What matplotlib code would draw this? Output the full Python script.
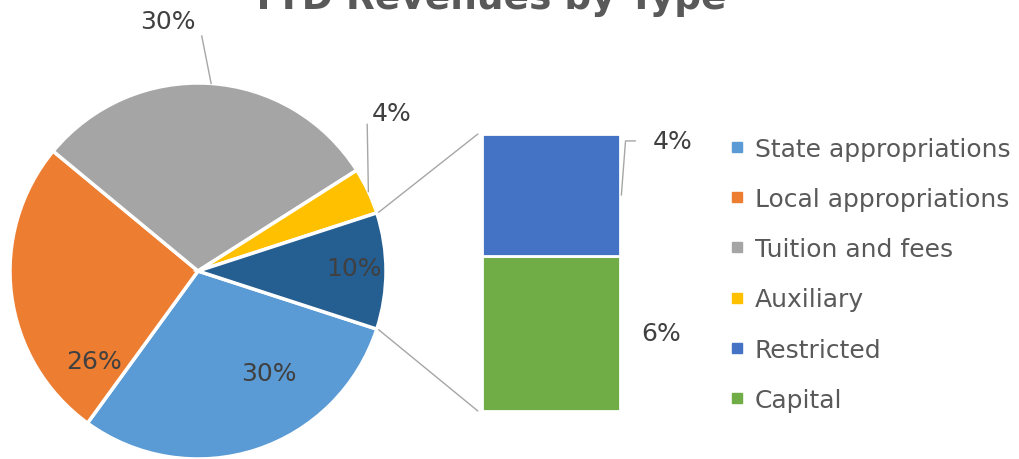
import numpy as np
import matplotlib
matplotlib.use("Agg")
import matplotlib.pyplot as plt
from matplotlib.patches import ConnectionPatch
from matplotlib.lines import Line2D

# data (percent of YTD revenue)
categories = ["State appropriations", "Local appropriations", "Tuition and fees",
              "Auxiliary", "Restricted", "Capital"]
values = [30, 26, 30, 4, 4.4, 5.6]
colors = ["#5B9BD5", "#ED7D31", "#A5A5A5", "#FFC000", "#4472C4", "#70AD47"]
other_color = "#255E91"

pie_vals = values[:4] + [values[4] + values[5]]
pie_colors = colors[:4] + [other_color]
bar_vals = [values[5], values[4]]  # capital at bottom, restricted on top
bar_colors = [colors[5], colors[4]]

text_col = "#404040"
plt.rcParams["font.family"] = "DejaVu Sans"

W, H = 1019, 460
fig = plt.figure(figsize=(W / 100, H / 100), dpi=100)

# pie axes (center ~ (198, 272) px, radius 188)
ax = fig.add_axes([10 / W, 0, 376 / W, 376 / H])
wedges, _ = ax.pie(pie_vals, colors=pie_colors, startangle=-18, counterclock=False,
                   radius=1, wedgeprops=dict(edgecolor="white", linewidth=2.5))
ax.set_xlim(-1, 1)
ax.set_ylim(-1, 1)
ax.set_aspect("equal")
ax.axis("off")

fs = 18
# inside labels: (index, angle deg, radius)
inside = [(0, 305, 0.66), (1, 221, 0.73), (4, 1, 0.83)]
for i, ang, r in inside:
    a = np.deg2rad(ang)
    ax.text(r * np.cos(a), r * np.sin(a), f"{round(pie_vals[i])}%", ha="center",
            va="center", fontsize=fs, color=text_col)

# outside labels with leader lines
outside = [(2, 86, (0.02, 1.25), (-0.16, 1.33)), (3, 25, (0.90, 0.78), (1.03, 0.84))]
for i, ang, lend, tpos in outside:
    a = np.deg2rad(ang)
    ax.plot([np.cos(a), lend[0]], [np.sin(a), lend[1]], color="#A6A6A6",
            lw=1, clip_on=False)
    ax.text(tpos[0], tpos[1], f"{round(pie_vals[i])}%", ha="center", va="center",
            fontsize=fs, color=text_col)

# bar axes
ax2 = fig.add_axes([482 / W, 48 / H, 138 / W, 277 / H])
bottom = 0
for v, c in zip(bar_vals, bar_colors):
    ax2.bar(0, v, width=1, bottom=bottom, color=c, edgecolor="white", linewidth=2)
    bottom += v
ax2.set_xlim(-0.5, 0.5)
ax2.set_ylim(0, sum(bar_vals))
ax2.axis("off")

total = sum(bar_vals)
# capital label
ax2.text(0.8, bar_vals[0] / 2, f"{round(bar_vals[0])}%", ha="center", va="center",
         fontsize=fs, color=text_col)
# restricted label with leader
ly = total * 0.975
ax2.plot([0.51, 0.54, 0.61], [total * 0.78, ly, ly], color="#A6A6A6", lw=1, clip_on=False)
ax2.text(0.88, ly, f"{round(bar_vals[1])}%", ha="center", va="center",
         fontsize=fs, color=text_col)

# connector lines from the "other" wedge to the bar
th1, th2 = wedges[4].theta1, wedges[4].theta2
for th, yb in [(th2, total), (th1, 0)]:
    a = np.deg2rad(th)
    con = ConnectionPatch(xyA=(-0.5 - 0.03, yb), coordsA=ax2.transData,
                          xyB=(np.cos(a) * 1.01, np.sin(a) * 1.01), coordsB=ax.transData,
                          color="#A6A6A6", lw=1)
    fig.add_artist(con)

# title (partly cut off at the top, as in the original)
fig.text(488 / W, (H - 9) / H, "YTD Revenues by Type", ha="center", va="baseline",
         fontsize=27, fontweight="bold", color="#595959")

# legend
handles = [Line2D([], [], marker="s", ls="", color=c, markersize=7) for c in colors]
fig.legend(handles, categories, loc="upper left", bbox_to_anchor=(716 / W, (H - 125) / H),
           frameon=False, fontsize=fs, labelcolor="#595959", handlelength=0.7,
           handletextpad=0.35, labelspacing=1.05, borderpad=0)

fig.savefig("out.png", dpi=100)
